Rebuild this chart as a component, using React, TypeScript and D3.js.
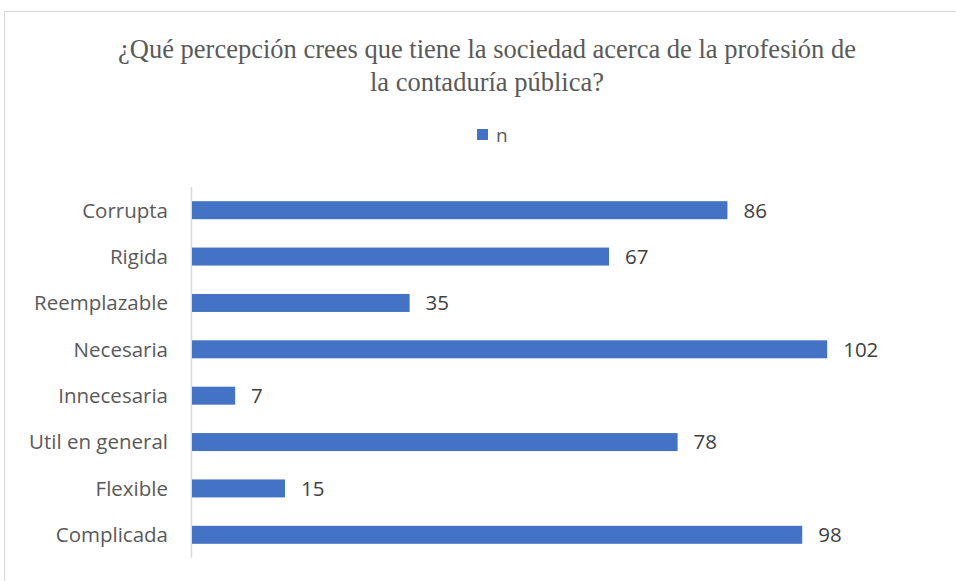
import React from "react";
import * as d3 from "d3";

const categories = ["Corrupta", "Rigida", "Reemplazable", "Necesaria", "Innecesaria", "Util en general", "Flexible", "Complicada"];
const values = [86, 67, 35, 102, 7, 78, 15, 98];
const seriesName = "n";
const titleLines = ["¿Qué percepción crees que tiene la sociedad acerca de la profesión de", "la contaduría pública?"];

const W = 956;
const H = 581;

export default function App() {
  const x = d3.scaleLinear().domain([0, 120]).range([191.5, 191.5 + 120 * 6.232]);
  const y = d3.scaleBand<string>().domain(categories).range([187, 558]).paddingInner(0.612).paddingOuter(0.306);
  const bw = y.bandwidth();
  return (
    <svg width={W} height={H} style={{ position: "absolute", left: 0, top: 0, background: "#fff" }}>
      <rect x={4.5} y={11.5} width={W + 10} height={H + 10} fill="#fff" stroke="#d9d9d9" strokeWidth={1} />
      {titleLines.map((t, i) => (
        <text key={i} x={487} y={58 + i * 33} textAnchor="middle" fontFamily="'Liberation Serif', 'Times New Roman', serif" fontSize={26.5} fill="#595959">{t}</text>
      ))}
      <rect x={477} y={129} width={11} height={11} fill="#4472c4" />
      <text x={496} y={141.5} fontFamily="'Open Sans', sans-serif" fontSize={19} fill="#595959">{seriesName}</text>
      <line x1={191.5} x2={191.5} y1={187} y2={558} stroke="#d9d9d9" strokeWidth={1.5} />
      {categories.map((c, i) => {
        const yy = y(c)!;
        const v = values[i];
        return (
          <g key={c}>
            <rect x={x(0) + 0.5} y={yy} width={x(v) - x(0) - 0.5} height={bw} fill="#4472c4" />
            <text x={168} y={yy + bw / 2} dy="0.36em" textAnchor="end" fontFamily="'Open Sans', sans-serif" fontSize={20.5} fill="#595959">{c}</text>
            <text x={x(v) + 16} y={yy + bw / 2} dy="0.36em" fontFamily="'Open Sans', sans-serif" fontSize={20.5} fill="#404040">{v}</text>
          </g>
        );
      })}
    </svg>
  );
}
